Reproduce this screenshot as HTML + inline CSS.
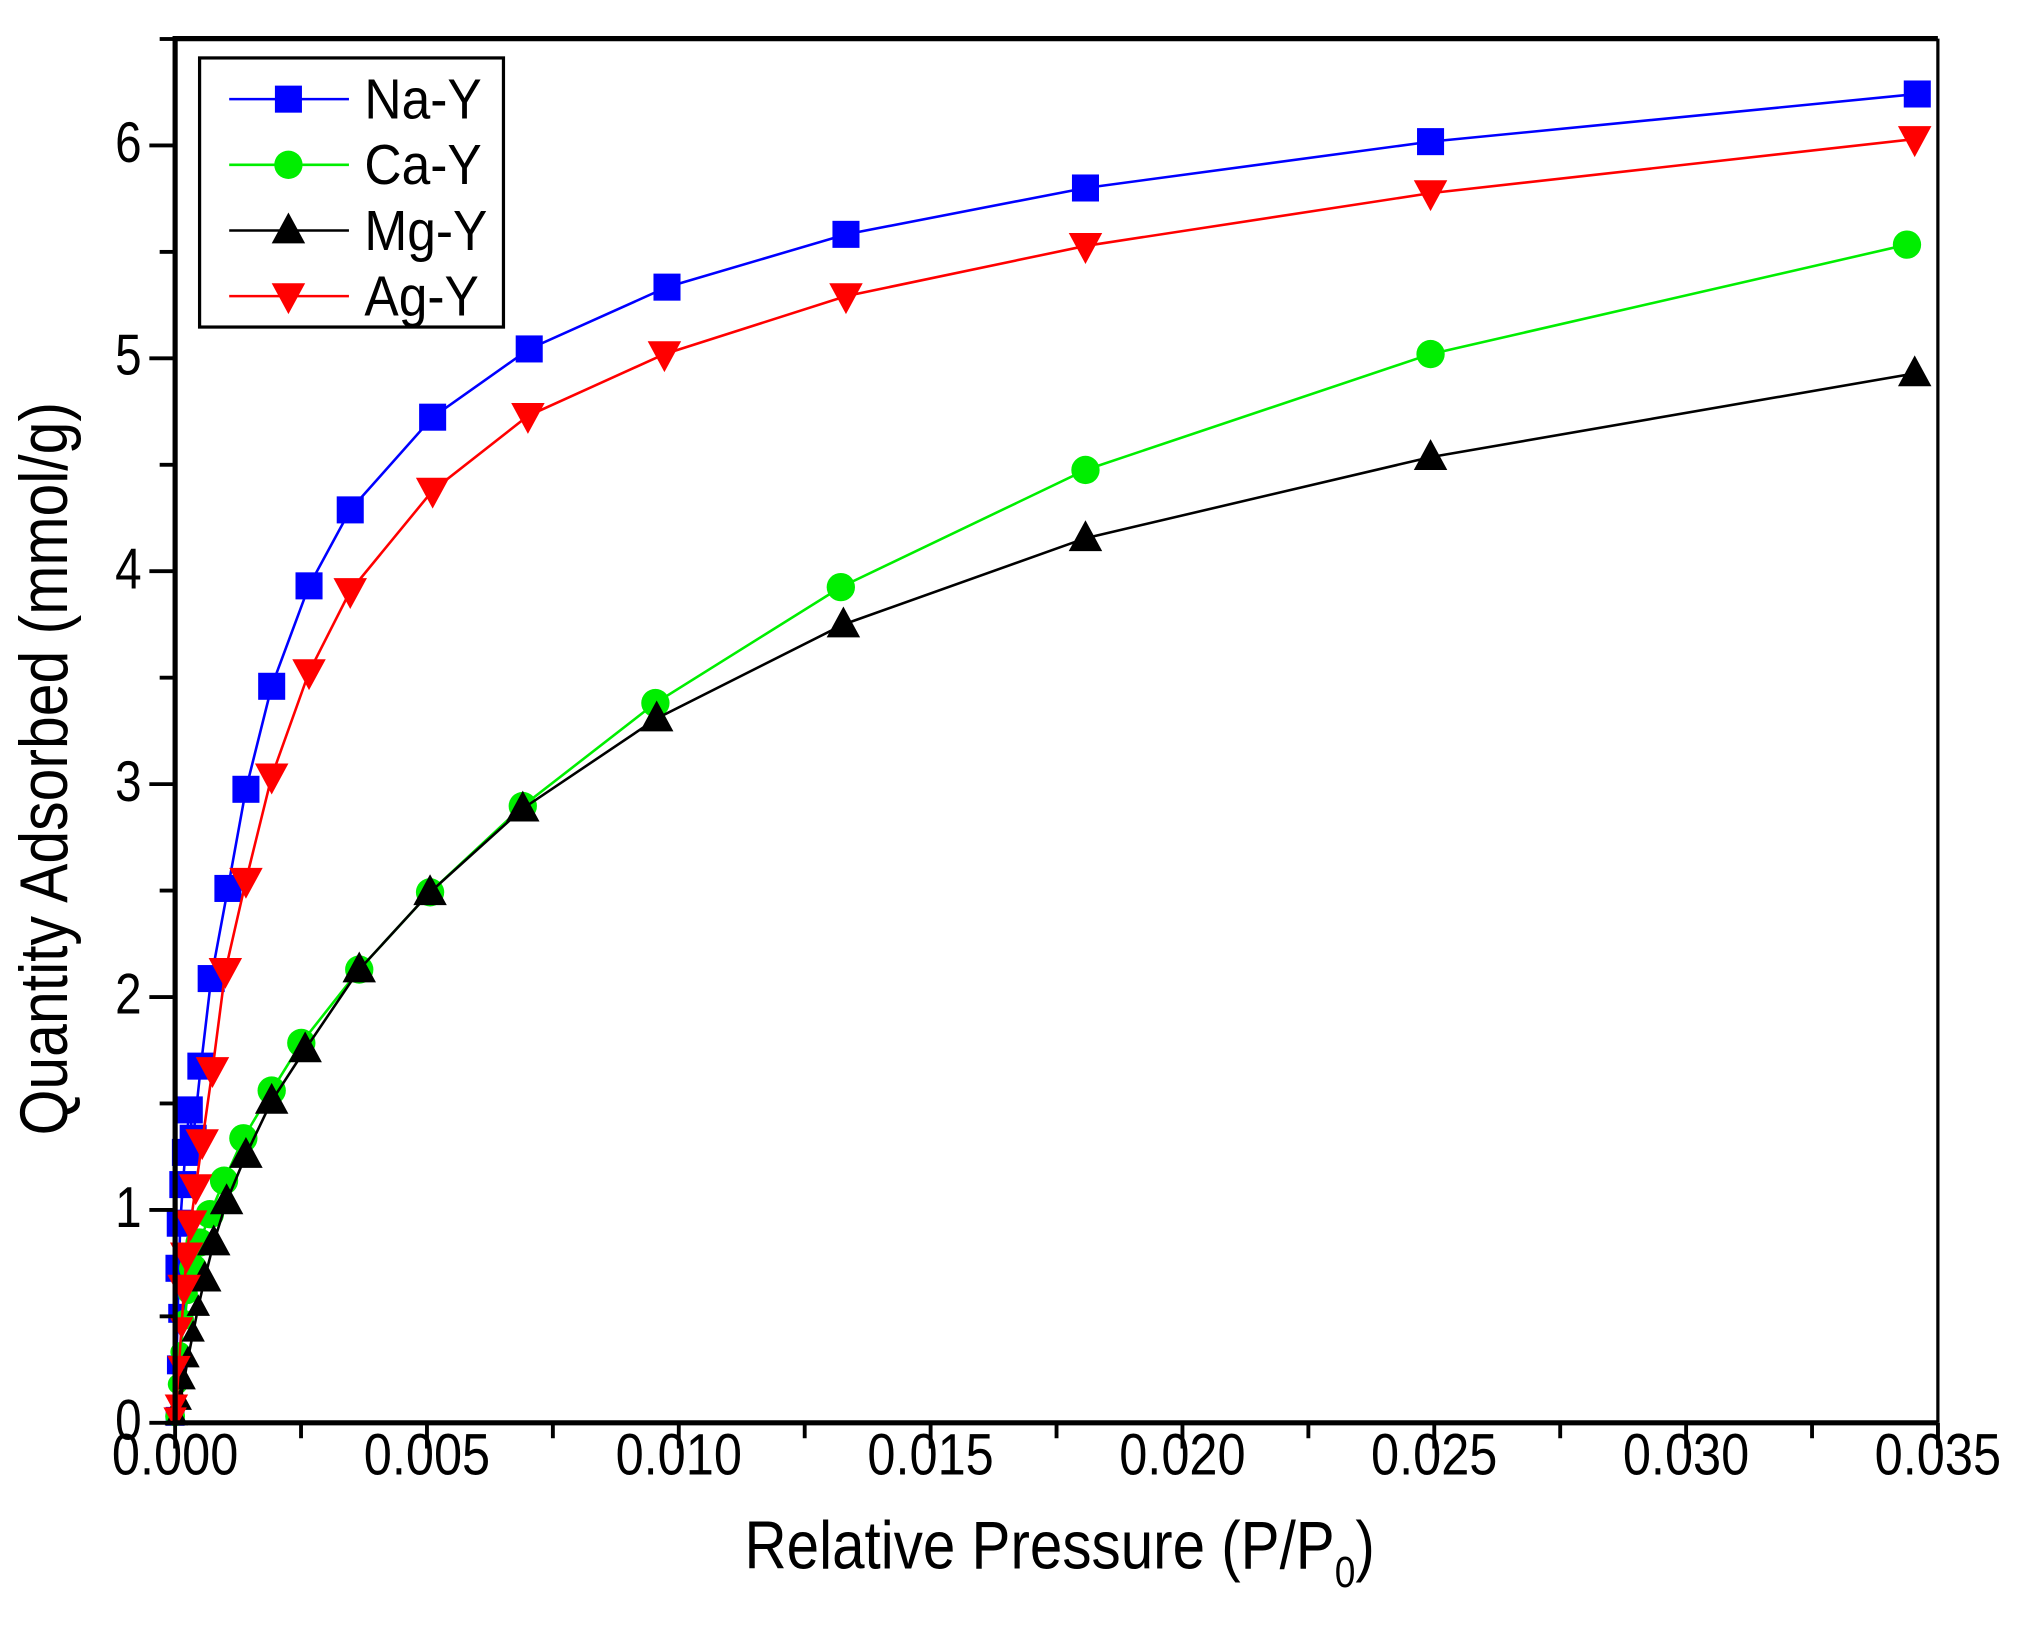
<!DOCTYPE html>
<html><head><meta charset="utf-8"><style>
html,body{margin:0;padding:0;background:#fff;}
svg{display:block;}
text{font-family:"Liberation Sans",Arial,sans-serif;fill:#000;}
</style></head><body>
<svg id="s" width="2019" height="1644" viewBox="0 0 1568 1276.8" preserveAspectRatio="none" xmlns="http://www.w3.org/2000/svg">
<rect x="0" y="0" width="1568" height="1276.8" fill="#fff"/>
<g id="data"></g>
<g id="axes" stroke="#000" fill="none">
<line x1="136" y1="30" x2="1505" y2="30" stroke-width="4"/>
<line x1="136" y1="28" x2="136" y2="1107" stroke-width="4"/>
<line x1="134" y1="1105" x2="1505" y2="1105" stroke-width="4"/>
<line x1="1505" y1="30" x2="1505" y2="1105" stroke-width="2.5"/>
</g>
<g id="ticks" stroke="#000" stroke-width="3"></g>
<g font-size="37" text-anchor="end">
<text x="110" y="1118" transform="matrix(1,0,0,1.2,0,-223.6)">0</text>
<text x="110" y="953" transform="matrix(1,0,0,1.2,0,-190.6)">1</text>
<text x="110" y="787" transform="matrix(1,0,0,1.2,0,-157.4)">2</text>
<text x="110" y="622" transform="matrix(1,0,0,1.2,0,-124.4)">3</text>
<text x="110" y="457" transform="matrix(1,0,0,1.2,0,-91.4)">4</text>
<text x="110" y="291" transform="matrix(1,0,0,1.2,0,-58.2)">5</text>
<text x="110" y="126" transform="matrix(1,0,0,1.2,0,-25.2)">6</text>
</g>
<g font-size="37" text-anchor="middle" transform="matrix(1.06,0,0,1.22,0,-251.7)">
<text x="128.3" y="1145">0.000</text>
<text x="312.8" y="1145">0.005</text>
<text x="497.3" y="1145">0.010</text>
<text x="681.8" y="1145">0.015</text>
<text x="866.3" y="1145">0.020</text>
<text x="1050.8" y="1145">0.025</text>
<text x="1235.3" y="1145">0.030</text>
<text x="1419.8" y="1145">0.035</text>
</g>
<g transform="matrix(1.03,0,0,1.2,0,-243.6)">
<text x="799" y="1218" font-size="44" text-anchor="middle">Relative Pressure (P/P<tspan font-size="28" dy="12">0</tspan><tspan dy="-12">)</tspan></text>
</g>
<text transform="translate(52,597) rotate(-90) scale(1.04,1.2)" font-size="44" text-anchor="middle">Quantity Adsorbed (mmol/g)</text>
<rect x="155" y="45" width="236" height="209" fill="#fff" stroke="#000" stroke-width="2.5"/>
<g id="leg"></g>
<g font-size="40">
<text x="283" y="92" transform="matrix(1,0,0,1.1,0,-9.2)">Na-Y</text>
<text x="283" y="143" transform="matrix(1,0,0,1.1,0,-14.3)">Ca-Y</text>
<text x="283" y="194" transform="matrix(1,0,0,1.1,0,-19.4)">Mg-Y</text>
<text x="283" y="245" transform="matrix(1,0,0,1.1,0,-24.5)">Ag-Y</text>
</g>
</svg>
<script>
var NS="http://www.w3.org/2000/svg";
function el(p,t,a){var e=document.createElementNS(NS,t);for(var k in a)e.setAttribute(k,a[k]);p.appendChild(e);return e;}
var tk=document.getElementById('ticks');
for(var i=0;i<=13;i++){var y=1105-i*82.67;var maj=i%2==0;el(tk,'line',{x1:maj?116:124,y1:y,x2:136,y2:y});}
for(var i=0;i<=14;i++){var x=136+i*97.79;var maj=i%2==0;el(tk,'line',{x1:x,y1:1105,x2:x,y2:maj?1125:1117});}
var S={
na:{c:"#0000ff",m:"sq",p:[[136,1100],[137,1060],[138,1020],[139,985],[140,950],[142,920],[144,895],[147,862],[150,884],[156,828],[164,760],[177,690],[191,613],[211,533],[240,455],[272,396],[336,324],[411,271],[518,223],[657,182],[843,146],[1111,110],[1489,73]]},
ca:{c:"#00ee00",m:"ci",p:[[136,1100],[138,1075],[140,1050],[143,1025],[146,1005],[150,985],[155,965],[163,943],[174,917],[189,884],[211,847],[234,810],[279,753],[334,693],[406,626],[509,546],[653,456],[843,365],[1111,275],[1481,190]]},
mg:{c:"#000",m:"tu",p:[[137,1100],[140,1088],[143,1072],[146,1055],[150,1035],[154,1015],[159,993],[166,965],[176,933],[191,897],[211,855],[237,815],[279,753],[334,693],[406,628],[510,558],[655,485],[843,418],[1111,355],[1487,290]]},
ag:{c:"#ff0000",m:"td",p:[[136,1100],[137,1090],[139,1060],[141,1030],[143,1000],[145,975],[148,950],[152,922],[157,887],[165,831],[175,754],[191,684],[211,603],[240,522],[272,459],[336,381],[410,323],[516,275],[657,230],[843,191],[1111,150],[1487,108]]}};
var D=document.getElementById('data');
function mk(g,m,c,x,y,s){s=s||1;
 if(m=="sq")el(g,'rect',{x:x-10.5*s,y:y-10.5*s,width:21*s,height:21*s,fill:c});
 else if(m=="ci")el(g,'ellipse',{cx:x,cy:y,rx:11*s,ry:11*s,fill:c});
 else if(m=="tu")el(g,'polygon',{points:(x-13*s)+","+(y+10*s)+" "+(x+13*s)+","+(y+10*s)+" "+x+","+(y-14*s),fill:c});
 else el(g,'polygon',{points:(x-13*s)+","+(y-10*s)+" "+(x+13*s)+","+(y-10*s)+" "+x+","+(y+14*s),fill:c});}
["na","ca","mg","ag"].forEach(function(k){var s=S[k];var g=el(D,'g',{});
 el(g,'polyline',{points:s.p.map(function(q){return q.join(",")}).join(" "),fill:"none",stroke:s.c,"stroke-width":2});
 s.p.forEach(function(q){var sc=q[1]>1000?0.7:1;mk(g,s.m,s.c,q[0],q[1],sc);});});
var L=document.getElementById('leg');var ys=[77,128,179,230],ks=["na","ca","mg","ag"];
ks.forEach(function(k,i){el(L,'line',{x1:178,y1:ys[i],x2:271,y2:ys[i],stroke:S[k].c,"stroke-width":2});mk(L,S[k].m,S[k].c,224,ys[i]);});
</script>
</body></html>
